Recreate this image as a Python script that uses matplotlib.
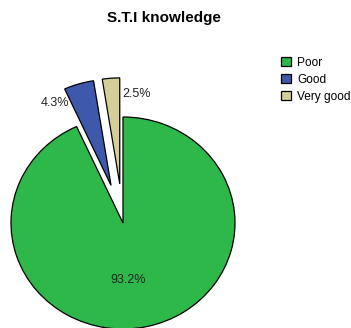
import matplotlib
matplotlib.use("Agg")
import matplotlib.pyplot as plt

categories = ["Poor", "Good", "Very good"]
values = [93.2, 4.3, 2.5]
labels_pct = ["93.2%", "4.3%", "2.5%"]
colors = ["#2fb84a", "#3e58ac", "#d4cf98"]
explode = [0, 0.37, 0.37]

W, H = 351, 328
fig = plt.figure(figsize=(W / 100, H / 100), dpi=100)
plt.rcParams['font.family'] = ['Liberation Sans', 'DejaVu Sans']

# axes so that unit radius = 112 px horizontally, 106 px vertically, centre at (123, 223)
cx, cy = 123, H - 223
rx, ry = 112, 106
L = 1.5
ax = fig.add_axes([(cx - L * rx) / W, (cy - L * ry) / H, 2 * L * rx / W, 2 * L * ry / H])
wedges, _ = ax.pie(values, colors=colors, explode=explode, startangle=90, counterclock=False,
                   wedgeprops=dict(edgecolor="black", linewidth=0.9))
ax.set_aspect('auto')
ax.set_xlim(-L, L)
ax.set_ylim(-L, L)
ax.axis('off')

# percentage labels
ax.text(0.05, -0.54, labels_pct[0], ha='center', va='center', fontsize=9, color='#222222')
ax.text(-0.61, 1.13, labels_pct[1], ha='center', va='center', fontsize=9, color='#222222')
ax.text(-0.01, 1.22, labels_pct[2], ha='left', va='center', fontsize=9, color='#222222')

fig.text(164 / W, 1 - 18 / H, "S.T.I knowledge", ha='center', va='center',
         fontsize=11, fontweight='bold')

leg = fig.legend(wedges, categories, loc='upper left', bbox_to_anchor=(281 / W, 1 - 57 / H),
                 frameon=False, fontsize=8.6, handlelength=0.8, handleheight=0.8,
                 handletextpad=0.55, labelspacing=0.4, borderpad=0, borderaxespad=0)

fig.savefig("out.png", dpi=100)
